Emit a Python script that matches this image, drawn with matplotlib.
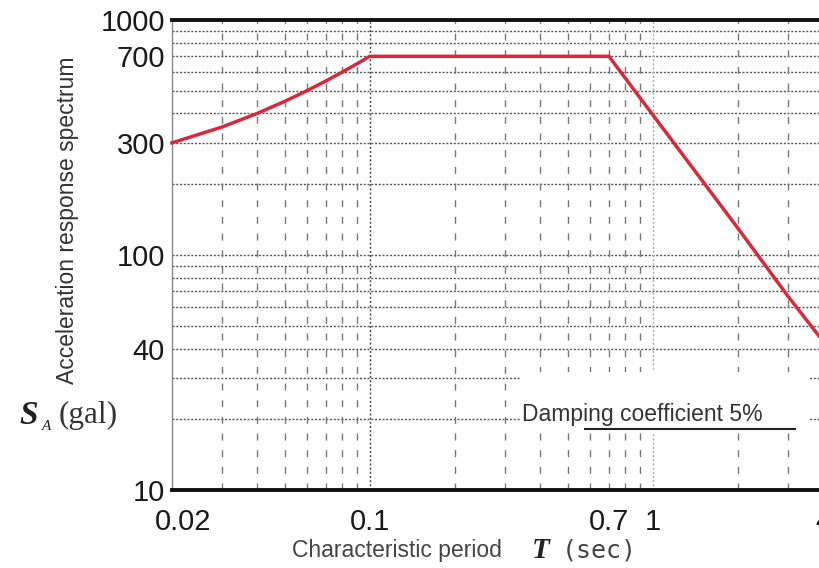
#!/usr/bin/env python3

import numpy as np
import matplotlib
matplotlib.use("Agg")
import matplotlib.pyplot as plt
from matplotlib.patches import Rectangle
from matplotlib.transforms import ScaledTranslation

# Spectrum (period in sec, acceleration in gal)
period = [0.02, 0.03, 0.04, 0.05, 0.06, 0.07, 0.08, 0.09, 0.1, 0.7, 1.0, 2.0, 3.0, 4.0]
accel = [300, 350, 400, 450, 500, 550, 600, 650, 700, 700, 395, 130, 67, 43]

x_ticks = [0.02, 0.1, 0.7, 1, 4]
x_tick_labels = ["0.02", "0.1", "0.7", "1", "4"]
y_ticks = [10, 40, 100, 300, 700, 1000]
y_tick_labels = ["10", "40", "100", "300", "700", "1000"]

x_minor = [0.03, 0.04, 0.05, 0.06, 0.07, 0.08, 0.09,
           0.2, 0.3, 0.4, 0.5, 0.6, 0.7, 0.8, 0.9, 2, 3]
y_grid = [20, 30, 40, 50, 60, 70, 80, 90, 100,
          200, 300, 400, 500, 600, 700, 800, 900]

plt.rcParams['font.family'] = ['Liberation Sans', 'DejaVu Sans']


def plot_spectrum():
    fig = plt.figure(figsize=(8.19, 5.68), dpi=100)
    ax = fig.add_axes([0.21, 0.137, 0.795, 0.828])
    ax.set_xscale('log')
    ax.set_yscale('log')
    ax.set_xlim(0.02, 4)
    ax.set_ylim(10, 1000)

    # grid: dotted horizontals, dashed verticals
    for y in y_grid:
        ax.axhline(y, color='#555555', lw=1.0, ls=(0, (1.5, 1.2)), zorder=1)
    for x in x_minor:
        ax.axvline(x, color='#777777', lw=1.0, ls=(0, (5, 7)), zorder=1)
    ax.axvline(0.1, color='#444444', lw=1.0, ls=(0, (1.5, 1.5)), zorder=1)
    ax.axvline(1, color='#aaaaaa', lw=1.0, ls=(0, (1.5, 1.5)), zorder=1)

    # white patch behind the damping note
    ax.add_patch(Rectangle((0.535, 0.124), 0.445, 0.128, transform=ax.transAxes,
                           facecolor='white', edgecolor='none', zorder=2))
    ax.text(0.537, 0.160, "Damping coefficient 5%", transform=ax.transAxes,
            fontsize=16.5, color='#333333', ha='left', va='center', zorder=3)
    ax.plot([0.635, 0.957], [0.131, 0.131], transform=ax.transAxes,
            color='#222222', lw=1.5, zorder=3)

    ax.plot(period, accel, color='#d42a3c', lw=2.5, zorder=4, clip_on=False)

    ax.set_xticks(x_ticks)
    ax.set_xticklabels(x_tick_labels)
    ax.set_yticks(y_ticks)
    ax.set_yticklabels(y_tick_labels)
    ax.xaxis.set_minor_locator(plt.NullLocator())
    ax.yaxis.set_minor_locator(plt.NullLocator())
    ax.tick_params(axis='both', length=0, labelsize=21, colors='#1a1a1a')
    ax.tick_params(axis='x', pad=13)
    ax.tick_params(axis='y', pad=5)

    # the first period label sits a little right of the axis corner
    first = ax.get_xticklabels()[0]
    first.set_transform(first.get_transform() + ScaledTranslation(0.11, 0, fig.dpi_scale_trans))

    for side in ['top', 'bottom']:
        ax.spines[side].set_linewidth(2.8)
        ax.spines[side].set_color('#111111')
    for side in ['left', 'right']:
        ax.spines[side].set_linewidth(1.0)
        ax.spines[side].set_color('#888888')

    # axis titles
    fig.text(0.082, 0.613, "Acceleration response spectrum", rotation=90,
             fontsize=16.5, color='#333333', ha='center', va='center')
    fig.text(0.024, 0.268, "S", family='Liberation Serif', fontsize=24,
             fontweight='bold', fontstyle='italic', color='#222222', va='center')
    fig.text(0.051, 0.250, "A", family='Liberation Serif', fontsize=11,
             fontstyle='italic', color='#222222', va='center')
    fig.text(0.071, 0.268, "(gal)", family='Liberation Serif', fontsize=22.5,
             color='#333333', va='center')

    fig.text(0.356, 0.030, "Characteristic period", fontsize=16.5,
             color='#444444', ha='left', va='center')
    fig.text(0.660, 0.030, "T", family='Liberation Serif', fontsize=21,
             fontweight='bold', fontstyle='italic', color='#222222',
             ha='center', va='center')
    fig.text(0.686, 0.030, "(sec)", family='DejaVu Sans Mono', fontsize=18,
             color='#444444', ha='left', va='center')

    fig.savefig('out.png', dpi=100)
    plt.close(fig)


if __name__ == "__main__":
    plot_spectrum()
